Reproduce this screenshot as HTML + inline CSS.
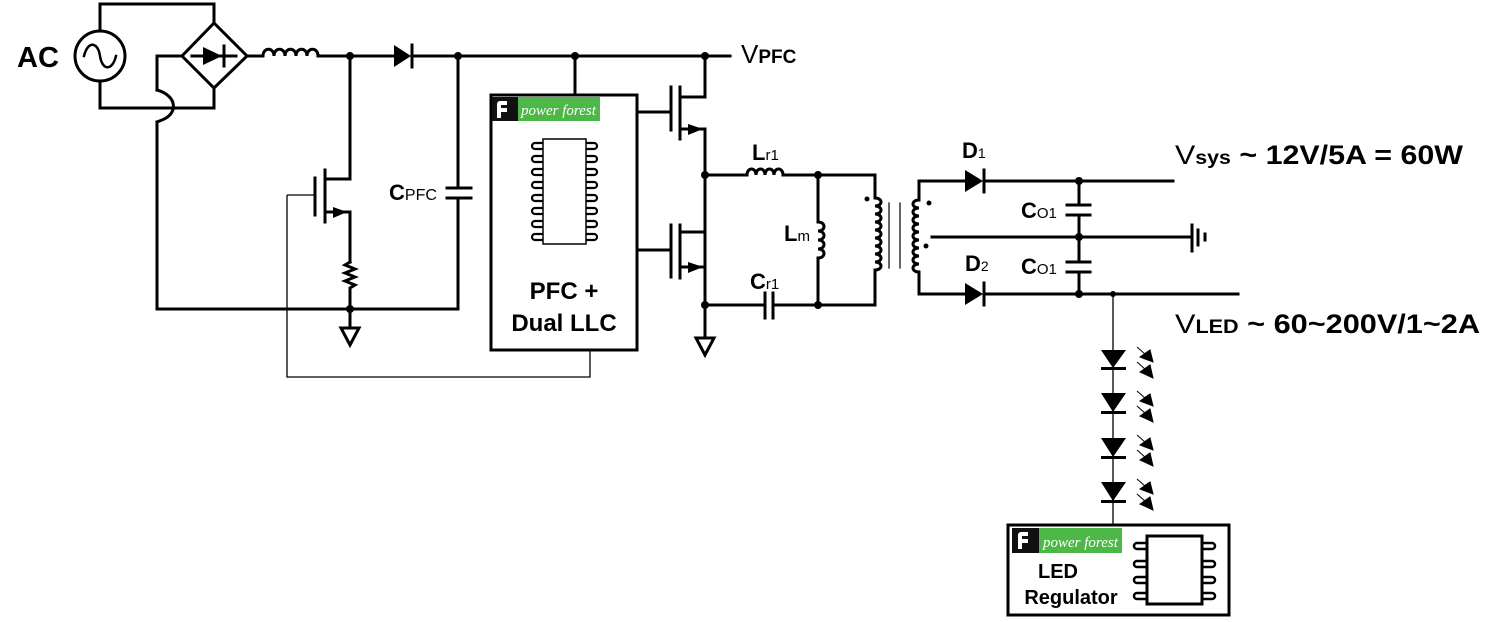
<!DOCTYPE html>
<html><head><meta charset="utf-8"><style>
html,body{margin:0;padding:0;background:#fff;}
svg{display:block;}
.t{font-family:"Liberation Sans",Arial,sans-serif;}
.b{font-weight:bold;}
.pf{font-family:"Liberation Serif",serif;font-style:italic;}
</style></head><body>
<svg width="1507" height="622" viewBox="0 0 1507 622" xmlns="http://www.w3.org/2000/svg">
<g fill="none" stroke="#000" stroke-width="3" stroke-linecap="square" stroke-linejoin="miter">
<circle cx="100" cy="56" r="25"/>
<path d="M84 56 C88 40 98 42 100 56 C102 70 112 72 116 56" stroke-width="2.5"/>
<polyline points="100,31 100,4 214,4 214,23"/>
<polyline points="100,81 100,108 214,108 214,88"/>
<polygon points="214,23 247,56 214,88 182,56"/>
<line x1="192" y1="56" x2="236" y2="56"/>
<line x1="224" y1="46" x2="224" y2="66"/>
<polyline points="182,56 157,56 157,90"/>
<path d="M157 90 C178 96 178 114 162 120 L157 122"/>
<polyline points="157,122 157,309 458,309 458,198"/>
<line x1="247" y1="56" x2="263" y2="56"/>
<path d="M263 56 c0 -9 11 -9 11 0 c0 -9 11 -9 11 0 c0 -9 11 -9 11 0 c0 -9 11 -9 11 0 c0 -9 11 -9 11 0"/>
<line x1="318" y1="56" x2="393" y2="56"/>
<line x1="412" y1="56" x2="730" y2="56"/>
<line x1="412" y1="45" x2="412" y2="67"/>
<polyline points="350,56 350,179 327,179"/>
<line x1="325" y1="170" x2="325" y2="222"/>
<line x1="315" y1="178" x2="315" y2="215"/>
<polyline points="327,212 350,212 350,262"/>
<path d="M350 262 l-5 3 l10 4 l-10 4 l10 4 l-10 4 l10 4 l-5 3 L350 309 L350 328"/>
<polygon points="341,328 359,328 350,345"/>
<line x1="458" y1="56" x2="458" y2="188"/>
<line x1="447" y1="188" x2="471" y2="188"/>
<line x1="447" y1="198" x2="471" y2="198"/>
<rect x="491" y="95" width="146" height="255"/>
<line x1="575" y1="56" x2="575" y2="95"/>
<rect x="543" y="139" width="43" height="105" stroke-width="1.5"/>
<line x1="637" y1="112" x2="671" y2="112"/>
<line x1="671" y1="87" x2="671" y2="130"/>
<line x1="680" y1="87" x2="680" y2="139"/>
<polyline points="680,97 705,97 705,56"/>
<polyline points="682,129 705,129 705,305"/>
<line x1="637" y1="250" x2="671" y2="250"/>
<line x1="671" y1="225" x2="671" y2="277"/>
<line x1="680" y1="225" x2="680" y2="278"/>
<polyline points="680,232 705,232"/>
<polyline points="682,267 705,267"/>
<line x1="705" y1="305" x2="705" y2="338"/>
<polygon points="696,338 714,338 705,355"/>
<line x1="705" y1="175" x2="747" y2="175"/>
<path d="M747 175 c0 -8 9 -8 9 0 c0 -8 9 -8 9 0 c0 -8 9 -8 9 0 c0 -8 9 -8 9 0"/>
<polyline points="783,175 875,175 875,198"/>
<line x1="818" y1="175" x2="818" y2="222"/>
<path d="M818 222 c8 0 8 9 0 9 c8 0 8 9 0 9 c8 0 8 9 0 9 c8 0 8 9 0 9"/>
<line x1="818" y1="258" x2="818" y2="305"/>
<line x1="705" y1="305" x2="765" y2="305"/>
<line x1="765" y1="293" x2="765" y2="318"/>
<line x1="773" y1="293" x2="773" y2="318"/>
<polyline points="773,305 875,305 875,270"/>
<path d="M875 198 c8 0 8 8 0 8 c8 0 8 8 0 8 c8 0 8 8 0 8 c8 0 8 8 0 8 c8 0 8 8 0 8 c8 0 8 8 0 8 c8 0 8 8 0 8 c8 0 8 8 0 8 c8 0 8 8 0 8"/>
<line x1="889" y1="203" x2="889" y2="268" stroke-width="1.2"/>
<line x1="900" y1="203" x2="900" y2="268" stroke-width="1.2"/>
<path d="M919 200 c-8 0 -8 8 0 8 c-8 0 -8 8 0 8 c-8 0 -8 8 0 8 c-8 0 -8 8 0 8 c-8 0 -8 8 0 8 c-8 0 -8 8 0 8 c-8 0 -8 8 0 8 c-8 0 -8 8 0 8 c-8 0 -8 8 0 8"/>
<polyline points="919,200 919,181 965,181"/>
<polyline points="919,272 919,294 965,294"/>
<line x1="984" y1="181" x2="1173" y2="181"/>
<line x1="984" y1="294" x2="1238" y2="294"/>
<line x1="984" y1="170" x2="984" y2="192"/>
<line x1="984" y1="283" x2="984" y2="305"/>
<line x1="932" y1="237" x2="1192" y2="237"/>
<line x1="1192" y1="225" x2="1192" y2="251"/>
<line x1="1198" y1="230" x2="1198" y2="245"/>
<line x1="1205" y1="234" x2="1205" y2="240"/>
<line x1="1079" y1="181" x2="1079" y2="205"/>
<line x1="1067" y1="205" x2="1090" y2="205"/>
<line x1="1067" y1="215" x2="1090" y2="215"/>
<line x1="1079" y1="215" x2="1079" y2="262"/>
<line x1="1067" y1="262" x2="1090" y2="262"/>
<line x1="1067" y1="272" x2="1090" y2="272"/>
<line x1="1079" y1="272" x2="1079" y2="294"/>
<rect x="1008" y="525" width="221" height="90"/>
<rect x="1147" y="536" width="55" height="68"/>
</g>
<g fill="none" stroke="#000" stroke-width="1.3">
<polyline points="287,195 315,195"/>
<polyline points="287,195 287,377 590,377 590,350"/>
<line x1="1113" y1="294" x2="1113" y2="525"/>
</g>
<g fill="none" stroke="#000" stroke-width="2.5">
<path d="M1147 543 h-10 a3 3 0 0 0 0 6 h10 M1147 561 h-10 a3 3 0 0 0 0 6 h10 M1147 577 h-10 a3 3 0 0 0 0 6 h10 M1147 593 h-10 a3 3 0 0 0 0 6 h10"/>
<path d="M1202 543 h10 a3 3 0 0 1 0 6 h-10 M1202 561 h10 a3 3 0 0 1 0 6 h-10 M1202 577 h10 a3 3 0 0 1 0 6 h-10 M1202 593 h10 a3 3 0 0 1 0 6 h-10"/>
</g>
<g fill="none" stroke="#000" stroke-width="2.2">
<path d="M543 143 h-8 a3 3 0 0 0 0 6 h8 M543 156 h-8 a3 3 0 0 0 0 6 h8 M543 169 h-8 a3 3 0 0 0 0 6 h8 M543 182 h-8 a3 3 0 0 0 0 6 h8 M543 195 h-8 a3 3 0 0 0 0 6 h8 M543 208 h-8 a3 3 0 0 0 0 6 h8 M543 221 h-8 a3 3 0 0 0 0 6 h8 M543 234 h-8 a3 3 0 0 0 0 6 h8"/>
<path d="M586 143 h8 a3 3 0 0 1 0 6 h-8 M586 156 h8 a3 3 0 0 1 0 6 h-8 M586 169 h8 a3 3 0 0 1 0 6 h-8 M586 182 h8 a3 3 0 0 1 0 6 h-8 M586 195 h8 a3 3 0 0 1 0 6 h-8 M586 208 h8 a3 3 0 0 1 0 6 h-8 M586 221 h8 a3 3 0 0 1 0 6 h-8 M586 234 h8 a3 3 0 0 1 0 6 h-8"/>
</g>
<g fill="#000" stroke="none">
<polygon points="203,47 203,65 222,56"/>
<polygon points="394,45 394,67 411,56"/>
<polygon points="333,207 333,218 347,212"/>
<polygon points="688,124 688,135 703,129"/>
<polygon points="688,262 688,273 703,267"/>
<polygon points="965,170 965,192 983,181"/>
<polygon points="965,283 965,305 983,294"/>
<circle cx="350" cy="56" r="4"/><circle cx="458" cy="56" r="4"/><circle cx="575" cy="56" r="4"/><circle cx="705" cy="56" r="4"/>
<circle cx="350" cy="309" r="4"/><circle cx="705" cy="175" r="4"/><circle cx="705" cy="305" r="4"/>
<circle cx="818" cy="175" r="4"/><circle cx="818" cy="305" r="4"/>
<circle cx="1079" cy="181" r="4"/><circle cx="1079" cy="237" r="4"/><circle cx="1079" cy="294" r="4"/><circle cx="1113" cy="294" r="3"/>
<circle cx="867" cy="199" r="2.5"/><circle cx="929" cy="203" r="2.5"/><circle cx="926" cy="246" r="2.5"/>
<polygon points="1101,350 1126,350 1113,368"/><rect x="1101" y="367" width="25" height="3"/>
<polygon points="1101,393 1126,393 1113,412"/><rect x="1101" y="411" width="25" height="3"/>
<polygon points="1101,438 1126,438 1113,457"/><rect x="1101" y="456" width="25" height="3"/>
<polygon points="1101,482 1126,482 1113,501"/><rect x="1101" y="500" width="25" height="3"/>
</g>
<g stroke="#000" stroke-width="1" fill="#000">
<g id="arr"><line x1="1137" y1="347" x2="1146" y2="355"/><polygon points="1140,357 1153,362 1150,350"/><line x1="1137" y1="362" x2="1146" y2="370"/><polygon points="1140,372 1153,378 1150,365"/></g>
<use href="#arr" y="44"/><use href="#arr" y="88"/><use href="#arr" y="132"/>
</g>
<rect x="492" y="97" width="108" height="24" fill="#4db848"/>
<rect x="492" y="97" width="26" height="24" fill="#111"/>
<path d="M507 101 h-7 a3 3 0 0 0 -3 3 v14 h4 v-6 h6 v-4 h-6 v-3 h6 z" fill="#fff"/>
<text x="521" y="115" class="pf" font-size="15" fill="#fff">power forest</text>
<rect x="1012" y="528" width="110" height="25" fill="#4db848"/>
<rect x="1012" y="528" width="27" height="25" fill="#111"/>
<path d="M1028 532 h-7 a3 3 0 0 0 -3 3 v14 h4 v-6 h6 v-4 h-6 v-3 h6 z" fill="#fff"/>
<text x="1043" y="547" class="pf" font-size="15" fill="#fff">power forest</text>
<g class="t">
<text x="17" y="67" class="b" font-size="29">AC</text>
<text x="741" y="63" font-size="26">V<tspan class="b" font-size="19">PFC</tspan></text>
<text x="389" y="200" class="b" font-size="22">C<tspan font-size="16" font-weight="normal">PFC</tspan></text>
<text x="564" y="299" class="b" font-size="24" text-anchor="middle">PFC +</text>
<text x="564" y="331" class="b" font-size="24" text-anchor="middle">Dual LLC</text>
<text x="752" y="160" class="b" font-size="22">L<tspan font-size="15" font-weight="normal">r1</tspan></text>
<text x="784" y="241" class="b" font-size="22">L<tspan font-size="15" font-weight="normal">m</tspan></text>
<text x="750" y="289" class="b" font-size="22">C<tspan font-size="15" font-weight="normal">r1</tspan></text>
<text x="962" y="158" class="b" font-size="22">D<tspan font-size="14" font-weight="normal">1</tspan></text>
<text x="965" y="271" class="b" font-size="22">D<tspan font-size="14" font-weight="normal">2</tspan></text>
<text x="1021" y="218" class="b" font-size="22">C<tspan font-size="15" font-weight="normal">O1</tspan></text>
<text x="1021" y="274" class="b" font-size="22">C<tspan font-size="15" font-weight="normal">O1</tspan></text>
<text x="1175" y="164" font-size="27" textLength="288" lengthAdjust="spacingAndGlyphs">V<tspan class="b" font-size="19">sys</tspan><tspan class="b"> ~ 12V/5A = 60W</tspan></text>
<text x="1175" y="333" font-size="27" textLength="305" lengthAdjust="spacingAndGlyphs">V<tspan class="b" font-size="19">LED</tspan><tspan class="b"> ~ 60~200V/1~2A</tspan></text>
<text x="1058" y="578" class="b" font-size="20" text-anchor="middle">LED</text>
<text x="1071" y="604" class="b" font-size="20" text-anchor="middle">Regulator</text>
</g>
</svg>
</body></html>
